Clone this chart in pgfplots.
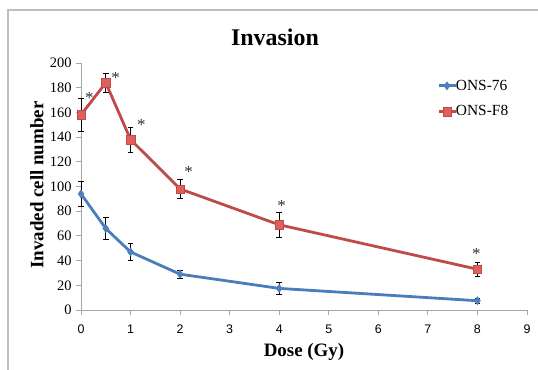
\documentclass[border=0pt]{standalone}
\usepackage{fontspec}
\setmainfont{Liberation Serif}
\newfontfamily\xsans{Liberation Sans}
\usepackage{pgfplots}
\pgfplotsset{compat=1.18}
\definecolor{blueL}{HTML}{4A7EBB}
\definecolor{blueM}{HTML}{4F81BD}
\definecolor{redL}{HTML}{BE4B48}
\definecolor{redM}{HTML}{E05F5C}
\definecolor{axgray}{HTML}{A6A6A6}
\begin{document}
\begin{tikzpicture}
\useasboundingbox (0,0) rectangle (538bp,370bp);
\fill[white] (0,0) rectangle (538bp,370bp);
\draw[line width=1.2bp, color=black!25] (8bp,0) -- (8bp,360bp) -- (538bp,360bp);
\node[font=\bfseries\fontsize{24}{28}\selectfont] at (275bp,333bp) {Invasion};
\node[font=\bfseries\fontsize{19}{22}\selectfont, rotate=90] at (37bp,185bp) {Invaded cell number};
\node[font=\bfseries\fontsize{19}{22}\selectfont] at (304bp,18bp) {Dose (Gy)};
\begin{axis}[
  at={(81bp,60bp)}, anchor=origin,
  scale only axis, width=446bp, height=247bp,
  xmin=0, xmax=9, ymin=0, ymax=200,
  xtick={0,1,...,9}, ytick={0,20,...,200},
  axis x line*=bottom, axis y line*=left,
  axis line style={color=axgray, line width=0.8bp, -},
  tick style={color=axgray, line width=0.8bp},
  tick align=outside, major tick length=5bp,
  xticklabel style={font=\xsans\fontsize{12.5}{14}\selectfont, yshift=-6bp},
  yticklabel style={font=\fontsize{14.5}{16}\selectfont, xshift=-1bp},
  /pgf/number format/assume math mode=true,
  legend style={at={(0.798,0.94)}, anchor=north west, draw=none, fill=none,
    font=\fontsize{15.5}{17}\selectfont, row sep=10bp, inner sep=0pt,
    /tikz/every even column/.append style={column sep=0pt}},
  legend cell align=left,
  legend image code/.code={\draw[#1] (0bp,0bp) -- (17bp,0bp); \draw[#1,only marks] plot coordinates {(8.5bp,0bp)};},
  clip=false,
]
\addplot[color=blueL, line width=2.8bp,
  mark=diamond*, mark size=4bp, mark options={fill=blueM, draw=blueM, line width=0.5bp},
  error bars/.cd, y dir=both, y explicit,
  error bar style={black, line width=0.7bp}, error mark options={black, rotate=90, mark size=2.8bp, line width=0.7bp}]
coordinates {
(0,94) +- (0,10)
(0.5,66) +- (0,9)
(1,47) +- (0,7)
(2,29) +- (0,3)
(4,17.5) +- (0,5)
(8,7.5) +- (0,2.2)
};
\addlegendentry{\hspace{-3bp}ONS-76}
\addplot[color=redL, line width=2.8bp,
  mark=square*, mark size=4.2bp, mark options={fill=redM, draw=redL, line width=0.5bp},
  error bars/.cd, y dir=both, y explicit,
  error bar style={black, line width=0.7bp}, error mark options={black, rotate=90, mark size=2.8bp, line width=0.7bp}]
coordinates {
(0,158) +- (0,13)
(0.5,184) +- (0,7.5)
(1,138) +- (0,10)
(2,98) +- (0,8)
(4,69) +- (0,10)
(8,33) +- (0,5.7)
};
\addlegendentry{\hspace{-3bp}ONS-F8}
\node[font=\fontsize{17}{19}\selectfont, color=black!80] at (axis cs:0.17,172) {*};
\node[font=\fontsize{17}{19}\selectfont, color=black!80] at (axis cs:0.70,187.5) {*};
\node[font=\fontsize{17}{19}\selectfont, color=black!80] at (axis cs:1.22,149.5) {*};
\node[font=\fontsize{17}{19}\selectfont, color=black!80] at (axis cs:2.17,112) {*};
\node[font=\fontsize{17}{19}\selectfont, color=black!80] at (axis cs:4.05,84) {*};
\node[font=\fontsize{17}{19}\selectfont, color=black!80] at (axis cs:7.98,45) {*};
\end{axis}
\end{tikzpicture}
\end{document}
